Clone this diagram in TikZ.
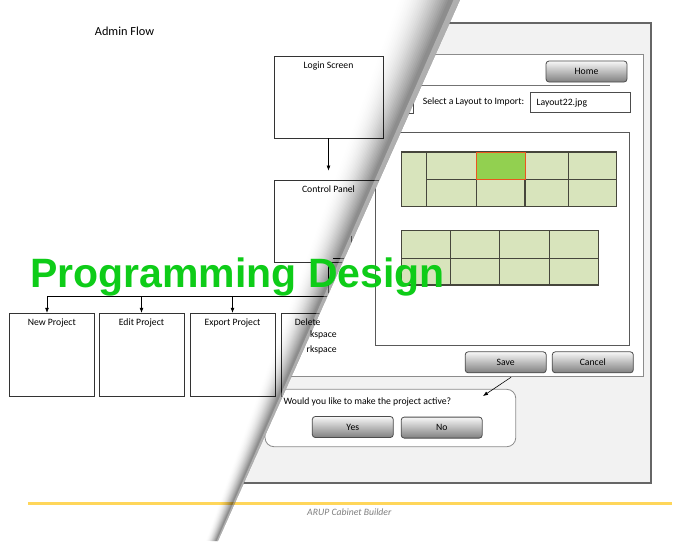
\documentclass[tikz,border=0pt]{standalone}
\usepackage{fontspec}
\setmainfont{Carlito}
\newfontfamily\titlefont{Liberation Sans}
\usetikzlibrary{arrows.meta, positioning}

\definecolor{winbg}{RGB}{242,242,242}
\definecolor{cellgreen}{RGB}{216,228,188}
\definecolor{selgreen}{RGB}{146,208,80}
\definecolor{selborder}{RGB}{235,85,30}
\definecolor{gridline}{RGB}{70,70,60}
\definecolor{footgold}{RGB}{255,214,90}
\definecolor{titlegreen}{RGB}{14,204,24}

\begin{document}
\begin{tikzpicture}[
	x=1pt, y=-1pt,
	every node/.style={inner sep=0pt, font=\fontsize{9.7}{11.5}\selectfont},
	flowbox/.style={draw=black!80, line width=0.9pt, minimum width=85pt, minimum height=83pt},
	winbutton/.style={draw=black!70, line width=0.8pt, rounded corners=3pt, top color=black!3, bottom color=black!50, minimum width=81pt, minimum height=21pt},
	field/.style={draw=black!70, line width=0.8pt, fill=white},
	cell/.style={fill=cellgreen, draw=gridline, line width=1.3pt},
	flowarrow/.style={-{Latex[length=5pt, width=4pt]}, line width=0.6pt}
	]
	\useasboundingbox (0,0) rectangle (700,541);
	\fill[white] (0,0) rectangle (700,541);
	
	% --- LEFT PAGE: ADMIN FLOW ---
	\begin{scope}
		\clip (0,0) -- (460,0) -- (218,541) -- (0,541) -- cycle;
		\node[font=\fontsize{12.3}{14}\selectfont] (heading) at (124.5,31) {Admin Flow};
		\node[flowbox, minimum width=109pt, minimum height=82pt] (login) at (328.5,97) {};
		\node[below=6pt of login.north] (loginlbl) {Login Screen};
		\node[flowbox, minimum width=109pt, minimum height=82pt] (cpanel) at (328.5,221) {};
		\node[below=6pt of cpanel.north] (cpanellbl) {Control Panel};
		\node[flowbox] (newproj) at (51.8,354.7) {};
		\node[below=6pt of newproj.north] (newlbl) {New Project};
		\node[flowbox] (editproj) at (141.5,354.7) {};
		\node[below=6pt of editproj.north] (editlbl) {Edit Project};
		\node[flowbox] (exportproj) at (232.5,354.7) {};
		\node[below=6pt of exportproj.north] (exportlbl) {Export Project};
		\node[flowbox] (deleteproj) at (323.5,354.7) {};
		
		\coordinate (busR) at (328.5,296);
		\coordinate (busL) at (47,296);
		\draw[flowarrow, shorten >=9pt] (login) -- (cpanel);
		\draw[line width=0.6pt] (cpanel) -- (busR) -- (busL);
		\draw[flowarrow] (busL) -- (busL |- newproj.north);
		\draw[flowarrow] (busR -| editproj) -- (editproj);
		\draw[flowarrow] (busR -| exportproj) -- (exportproj);
		\draw[line width=0.6pt] (333,258) -| (351,236);
	\end{scope}
	
	% --- RIGHT PAGE: IMPORT WINDOW ---
	\begin{scope}
		\clip (460,0) -- (700,0) -- (700,541) -- (218,541) -- cycle;
		\fill[white] (200,0) rectangle (700,541);
		\draw[fill=winbg, draw=black!60, line width=1.4pt] (200,23) rectangle (651,483);
		\draw[fill=white, draw=black!45, line width=1pt] (200,54) rectangle (643,376);
		\draw[black!55, line width=0.8pt] (200,85) -- (610,85);
		\node[winbutton] (home) at (586.5,71.5) {Home};
		
		\node[field, minimum width=43pt, minimum height=21pt] (layoutbox) at (391.5,102.5) {};
		\node[anchor=west] (importlbl) at (422.7,101.5) {Select a Layout to Import:};
		\node[field, minimum width=100.7pt, minimum height=20.4pt] (layoutfield) at (580.4,102.5) {};
		\node[right=6.7pt of layoutfield.west] (layoutname) {Layout22.jpg};
		
		\draw[fill=white, draw=black!65, line width=1pt] (375,132.7) rectangle (629.3,345);
		% upper layout grid
		\draw[cell] (401.7,152) rectangle (616.7,206.3);
		\foreach \gx in {426.7, 476.3, 525, 568.3}
			\draw[gridline, line width=1.3pt] (\gx,152) -- (\gx,206.3);
		\draw[gridline, line width=1.3pt] (426.7,179.3) -- (616.7,179.3);
		\draw[fill=selgreen, draw=selborder, line width=1pt] (476.3,152) rectangle (525,179.3);
		% lower layout grid
		\draw[cell] (401.7,230.3) rectangle (598.3,285);
		\foreach \gx in {450.3, 499.3, 549.3}
			\draw[gridline, line width=1.3pt] (\gx,230.3) -- (\gx,285);
		\draw[gridline, line width=1.3pt] (401.7,258.3) -- (598.3,258.3);
		
		\node[winbutton] (save) at (505.7,362.3) {Save};
		\node[winbutton] (cancel) at (592.8,362.3) {Cancel};
		
		\node[draw=black!45, line width=0.8pt, fill=white, rounded corners=9pt, minimum width=250.7pt, minimum height=57.4pt] (dialog) at (390.4,418) {};
		\node[anchor=west] (question) at (283.5,401.7) {Would you like to make the project active?};
		\node[winbutton] (yes) at (352.8,427) {Yes};
		\node[winbutton] (no) at (441.7,427.6) {No};
		\coordinate (tip) at (483,396);
		\draw[flowarrow] ([xshift=5.4pt, yshift=-4pt]save.south) -- (tip);
		
		\node[anchor=west, font=\fontsize{9.7}{11.5}\selectfont\itshape, text=black!50] (footer) at (307,512) {ARUP Cabinet Builder};
	\end{scope}
	
	\draw[footgold, line width=3pt] (28,503) -- (672,503);
	
	% --- PAGE CURL ---
	\foreach \k in {1,...,27}{
		\pgfmathsetmacro{\ts}{0.85*(\k-1)/27}
		\pgfmathsetmacro{\op}{1-(1-0.42*(\k/27)^2)/(1-0.42*((\k-1)/27)^2)}
		\fill[black, fill opacity=\op] ({395+65*\ts},0) -- (460,0) -- (218,541) -- ({205+13*\ts},541) -- cycle;
	}
	\fill[white, fill opacity=0.3] ({395+65*0.9},0) -- (460,0) -- (218,541) -- ({205+13*0.9},541) -- cycle;
	
	\node[below right=6pt and 14pt of deleteproj.north west] (deletelbl) {Delete};
	\node[anchor=east] (ws1) at (337,335) {kspace};
	\node[anchor=east] (ws2) at (337,349.7) {rkspace};
	
	% --- BANNER ---
	\node[anchor=base west, font=\titlefont\bfseries\fontsize{41}{41}\selectfont, text=titlegreen] (banner) at (30,287) {Programming Design};
	
\end{tikzpicture}
\end{document}
